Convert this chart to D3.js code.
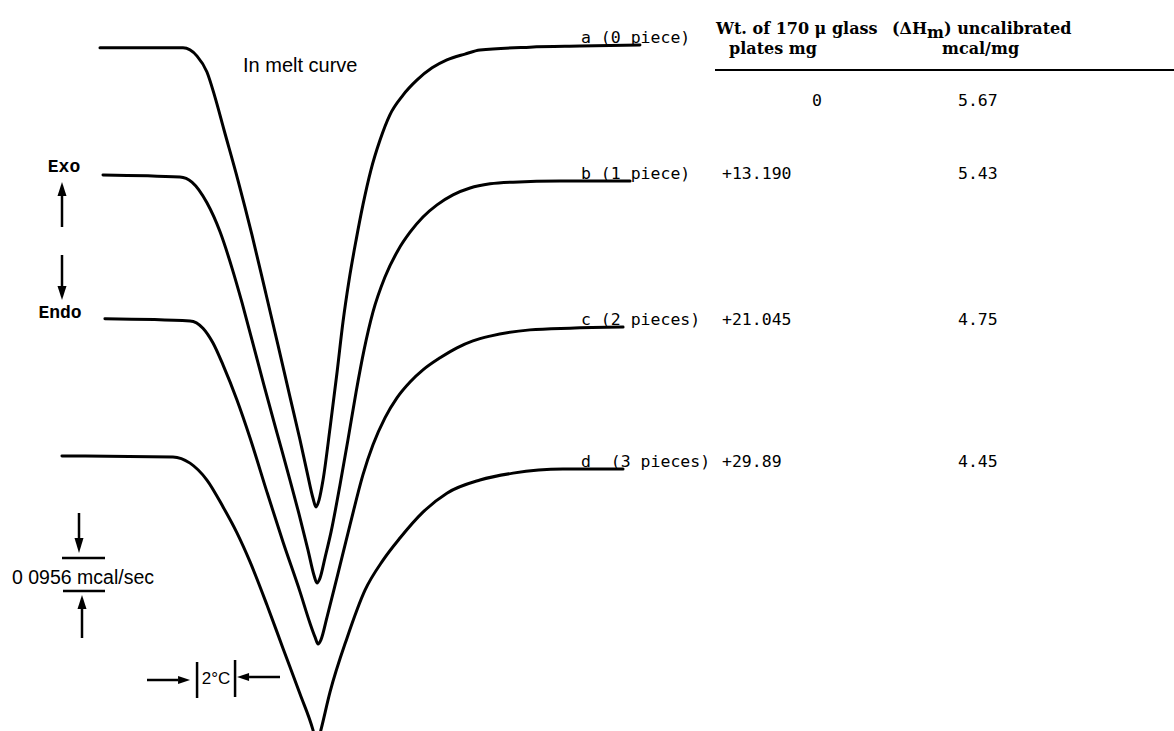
<!DOCTYPE html>
<html>
<head>
<meta charset="utf-8">
<script src="https://cdn.jsdelivr.net/npm/d3@7"></script>
<style>
  html, body { margin: 0; padding: 0; background: #fff; }
  svg { display: block; }
</style>
</head>
<body>
<svg id="chart" width="1174" height="731"></svg>
<script>
// DSC melting endotherms of indium with 0-3 glass cover plates.
// Temperature in °C, recorder signal in mcal/sec (endotherm downward).

const tempA = [145.63, 150.00, 150.74, 151.26, 151.68, 152.16, 152.89, 153.63, 154.32, 155.00, 155.63, 156.16, 156.53, 156.84, 157.00,
               157.16, 157.37, 157.74, 158.11, 158.42, 158.74, 159.11, 159.47, 159.89, 160.37, 160.89, 161.58, 162.32, 163.11, 163.89, 164.84, 165.63, 168.26, 170.89, 174.05];
const heatA = [1.979, 1.979, 1.955, 1.909, 1.837, 1.741, 1.596, 1.437, 1.277, 1.118, 0.968, 0.843, 0.750, 0.675, 0.649,
               0.669, 0.727, 0.878, 1.040, 1.185, 1.306, 1.422, 1.524, 1.625, 1.712, 1.785, 1.842, 1.886, 1.921, 1.944, 1.961, 1.973, 1.981, 1.984, 1.987];

const tempB = [145.79, 149.84, 150.47, 151.26, 151.95, 152.58, 153.11, 153.63, 154.26, 154.95, 155.63, 156.16, 156.58, 156.89, 157.05,
               157.21, 157.47, 157.79, 158.26, 158.68, 159.11, 159.53, 160.00, 160.63, 161.32, 161.95, 162.63, 163.37, 164.21, 165.11, 166.16, 167.37, 169.84, 173.53];
const heatB = [1.611, 1.605, 1.590, 1.530, 1.446, 1.341, 1.240, 1.133, 1.002, 0.863, 0.727, 0.617, 0.524, 0.452, 0.429,
               0.443, 0.501, 0.576, 0.712, 0.843, 0.982, 1.104, 1.214, 1.315, 1.393, 1.445, 1.489, 1.524, 1.553, 1.573, 1.585, 1.590, 1.593, 1.593];

const tempC = [145.89, 150.37, 151.05, 151.58, 152.11, 152.84, 153.53, 154.42, 155.26, 156.16, 156.68, 156.95, 157.11,
               157.26, 157.58, 158.11, 158.79, 159.47, 160.00, 160.63, 161.26, 161.95, 162.63, 163.53, 164.42, 165.26, 166.16, 168.26, 170.37, 173.16];
const heatC = [1.194, 1.188, 1.167, 1.124, 1.060, 0.959, 0.849, 0.692, 0.548, 0.403, 0.313, 0.272, 0.252,
               0.264, 0.330, 0.446, 0.597, 0.742, 0.829, 0.907, 0.965, 1.011, 1.046, 1.081, 1.110, 1.130, 1.144, 1.162, 1.167, 1.170];

const tempD = [143.63, 149.47, 150.37, 151.26, 152.11, 152.84, 153.53, 154.42, 155.26, 156.16, 156.84, 157.05,
               157.26, 157.74, 158.63, 159.58, 160.53, 161.42, 162.63, 163.89, 165.63, 167.37, 170.00, 173.16];
const heatD = [0.797, 0.794, 0.776, 0.727, 0.649, 0.574, 0.490, 0.365, 0.240, 0.107, 0.003, -0.041,
               0.003, 0.113, 0.269, 0.408, 0.495, 0.559, 0.634, 0.689, 0.727, 0.747, 0.759, 0.759];

const sampleLabels = ["a (0 piece)", "b (1 piece)", "c (2 pieces)", "d  (3 pieces)"];
const glassWeights = ["0", "+13.190", "+21.045", "+29.89"];
const heatOfFusion = ["5.67", "5.43", "4.75", "4.45"];

const scaleBarSpan = 0.0956;   // mcal/sec
const tempBarSpan = 2;         // °C

const svg = d3.select("#chart");
const H = 731;

const x = d3.scaleLinear().domain([140, 200]).range([-7, 1133]);
const y = d3.scaleLinear().domain([0, 2]).range([H, 40.6]);

const traces = [
  { t: tempA, q: heatA },
  { t: tempB, q: heatB },
  { t: tempC, q: heatC },
  { t: tempD, q: heatD }
];

const line = d3.line()
  .x(d => x(d[0]))
  .y(d => y(d[1]))
  .curve(d3.curveMonotoneX);

const plot = svg.append("g");
traces.forEach(tr => {
  const pts = tr.t.map((t, i) => [t, tr.q[i]]);
  plot.append("path")
    .attr("d", line(pts))
    .attr("fill", "none")
    .attr("stroke", "#000")
    .attr("stroke-width", 3)
    .attr("stroke-linejoin", "round")
    .attr("stroke-linecap", "round");
});

// Trace labels at the right end of each curve
const mono = "'DejaVu Sans Mono', 'Liberation Mono', monospace";
traces.forEach((tr, i) => {
  const endY = y(tr.q[tr.q.length - 1]);
  svg.append("text")
    .attr("x", 581)
    .attr("y", endY - 2)
    .attr("font-family", mono)
    .attr("font-size", 16.5)
    .attr("fill", "#000")
    .attr("xml:space", "preserve")
    .style("white-space", "pre")
    .text(sampleLabels[i]);
});

// Table header
const serif = "'DejaVu Serif', 'Liberation Serif', serif";
const head = svg.append("g").attr("font-family", serif).attr("font-weight", "bold").attr("font-size", 16).attr("fill", "#000");
head.append("text").attr("x", 716).attr("y", 34).text("Wt. of 170 \u03bc glass");
head.append("text").attr("x", 729).attr("y", 54).text("plates mg");
const dh = head.append("text").attr("x", 892).attr("y", 34);
dh.append("tspan").text("(\u0394H");
dh.append("tspan").attr("dy", 4).attr("font-size", 16).text("m");
dh.append("tspan").attr("dy", -4).text(") uncalibrated");
head.append("text").attr("x", 942).attr("y", 54).text("mcal/mg");

svg.append("line")
  .attr("x1", 715).attr("x2", 1174).attr("y1", 70).attr("y2", 70)
  .attr("stroke", "#000").attr("stroke-width", 2);

// Table rows
traces.forEach((tr, i) => {
  const rowY = i === 0 ? 106 : y(tr.q[tr.q.length - 1]) - 2;
  svg.append("text")
    .attr("x", i === 0 ? 817 : 722)
    .attr("y", rowY)
    .attr("text-anchor", i === 0 ? "middle" : "start")
    .attr("font-family", mono).attr("font-size", 16.5).attr("fill", "#000")
    .text(glassWeights[i]);
  svg.append("text")
    .attr("x", 958)
    .attr("y", rowY)
    .attr("font-family", mono).attr("font-size", 16.5).attr("fill", "#000")
    .text(heatOfFusion[i]);
});

const sans = "'Liberation Sans', Arial, sans-serif";

// Caption
svg.append("text")
  .attr("x", 243).attr("y", 72)
  .attr("font-family", sans)
  .attr("font-size", 20).attr("fill", "#000")
  .text("In melt curve");

// Exo / Endo direction arrows
const tw = "'Liberation Mono', 'Courier New', monospace";
svg.append("text").attr("x", 64).attr("y", 172).attr("text-anchor", "middle")
  .attr("font-family", tw).attr("font-size", 18).attr("font-weight", "bold").text("Exo");
svg.append("text").attr("x", 60).attr("y", 318).attr("text-anchor", "middle")
  .attr("font-family", tw).attr("font-size", 18).attr("font-weight", "bold").text("Endo");

function arrow(g, x0, y0, x1, y1, headLen, half) {
  const dx = x1 - x0, dy = y1 - y0, len = Math.hypot(dx, dy);
  const ux = dx / len, uy = dy / len;
  const bx = x1 - ux * headLen, by = y1 - uy * headLen;
  g.append("line").attr("x1", x0).attr("y1", y0).attr("x2", bx).attr("y2", by)
    .attr("stroke", "#000").attr("stroke-width", 2.5);
  g.append("path")
    .attr("d", `M${x1},${y1}L${bx - uy * half},${by + ux * half}L${bx + uy * half},${by - ux * half}Z`)
    .attr("fill", "#000");
}
const ann = svg.append("g");
arrow(ann, 62, 227, 62, 182, 14, 4.5);
arrow(ann, 62, 255, 62, 300, 14, 4.5);

// Vertical scale bar: 0.0956 mcal/sec
const barBase = 0.4056;
const yLow = y(barBase), yHigh = y(barBase + scaleBarSpan);
ann.append("line").attr("x1", 62).attr("x2", 105).attr("y1", yHigh).attr("y2", yHigh)
  .attr("stroke", "#000").attr("stroke-width", 2.5);
ann.append("line").attr("x1", 63).attr("x2", 105).attr("y1", yLow).attr("y2", yLow)
  .attr("stroke", "#000").attr("stroke-width", 2.5);
arrow(ann, 79, 513, 79, yHigh - 5, 15, 4.5);
arrow(ann, 82, 638, 82, yLow + 4, 14, 4.5);
svg.append("text").attr("x", 12).attr("y", 584)
  .attr("font-family", sans)
  .attr("font-size", 19.5).attr("fill", "#000")
  .text("0 0956 mcal/sec");

// Horizontal scale bar: 2 °C
const tBase = 150.74;
const xL = x(tBase), xR = x(tBase + tempBarSpan);
ann.append("line").attr("x1", xL).attr("x2", xL).attr("y1", 662).attr("y2", 698)
  .attr("stroke", "#000").attr("stroke-width", 2.5);
ann.append("line").attr("x1", xR).attr("x2", xR).attr("y1", 660).attr("y2", 697)
  .attr("stroke", "#000").attr("stroke-width", 2.5);
arrow(ann, 147, 680, xL - 7, 680, 12, 4);
arrow(ann, 280, 677, xR + 2, 677, 12, 4);
svg.append("text").attr("x", (xL + xR) / 2).attr("y", 684).attr("text-anchor", "middle")
  .attr("font-family", sans)
  .attr("font-size", 17).attr("fill", "#000")
  .text("2\u00b0C");
</script>
</body>
</html>
